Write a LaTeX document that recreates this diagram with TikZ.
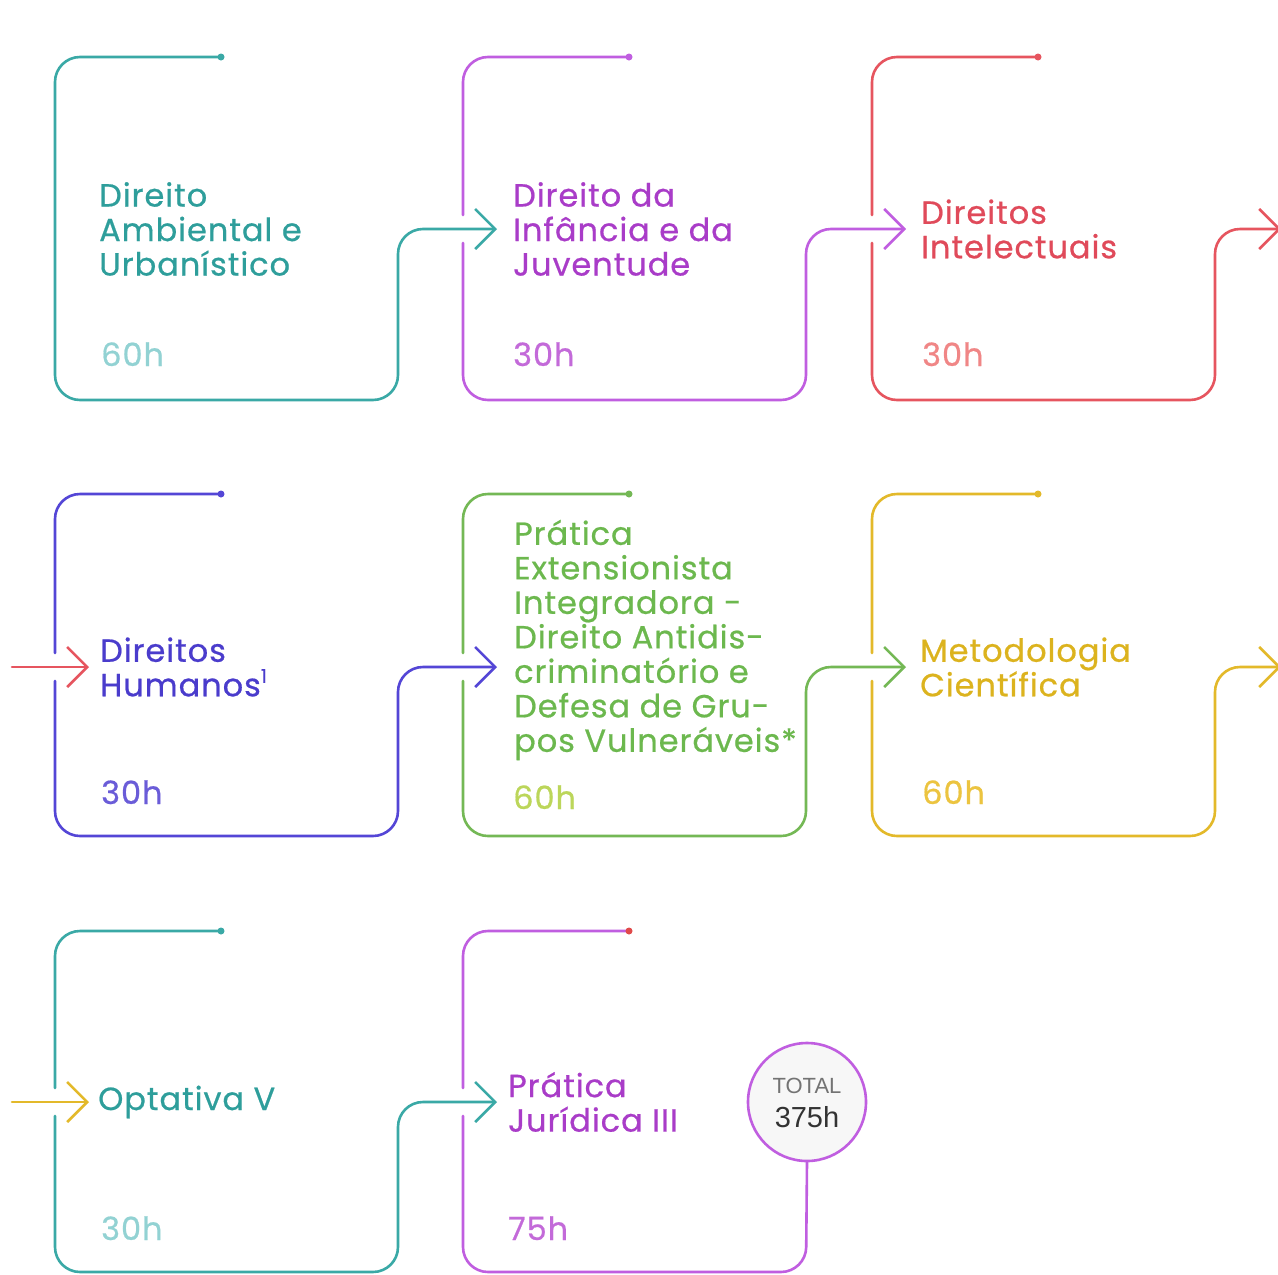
\documentclass[tikz,border=0pt]{standalone}
\usepackage{fontspec}
\setmainfont{Poppins}[LetterSpace=3, FakeBold=0.6]
\newfontfamily\totalfont{Liberation Sans}
\usetikzlibrary{arrows.meta}

% line / text colours of the course boxes
\definecolor{tealL}{HTML}{3AA9A6}\definecolor{tealT}{HTML}{2E9E9B}\definecolor{tealH}{HTML}{92D2D3}
\definecolor{purL}{HTML}{C05EE0}\definecolor{purT}{HTML}{A93CC8}\definecolor{purH}{HTML}{C36AD9}
\definecolor{redL}{HTML}{E6555F}\definecolor{redT}{HTML}{E04A5A}\definecolor{redH}{HTML}{F08686}
\definecolor{indL}{HTML}{5446D6}\definecolor{indT}{HTML}{4A3CCC}\definecolor{indH}{HTML}{6A5CD8}
\definecolor{grnL}{HTML}{74B855}\definecolor{grnT}{HTML}{6CB84E}\definecolor{grnH}{HTML}{BCD65A}
\definecolor{yelL}{HTML}{E3B92A}\definecolor{yelT}{HTML}{DCB31E}\definecolor{yelH}{HTML}{ECC440}
\definecolor{dotRed}{HTML}{E04A4A}

\newcommand\titlefont{\fontsize{32}{34.5}\selectfont}
\newcommand\footmark[1]{\raisebox{0.42em}{\fontsize{19}{19}\selectfont #1}}

\tikzset{
  frame/.style={line width=2.6pt, rounded corners=25pt, line cap=round},
  tip/.style={-{Straight Barb[length=20pt,width=40pt,line width=2.6pt]}},
  title/.style={anchor=west, align=left, inner sep=0pt, font=\titlefont},
  hours/.style={anchor=base west, inner sep=0pt, font=\titlefont},
  pin/.style={circle, fill, inner sep=0pt, minimum size=7pt},
}

% corner points of one course box: name, left, top, bottom, arrow level
\newcommand\boxpoints[5]{%
  \coordinate (#1dot) at (#2+166,#3);
  \coordinate (#1tl)  at (#2,#3);
  \coordinate (#1gu)  at (#2,#5-14);
  \coordinate (#1gd)  at (#2,#5+14);
  \coordinate (#1bl)  at (#2,#4);
  \coordinate (#1br)  at (#2+343,#4);
  \coordinate (#1up)  at (#2+343,#5);
  \coordinate (#1in)  at (#2+34,#5);
}

\begin{document}
\begin{tikzpicture}[x=1pt,y=-1pt]
\fill[white] (0,0) rectangle (1278,1275);
\useasboundingbox (0,0) rectangle (1278,1275);

\boxpoints{a}{55}{57}{400}{229}
\boxpoints{b}{463}{57}{400}{229}
\boxpoints{c}{872}{57}{400}{229}
\boxpoints{d}{55}{494}{836}{667}
\boxpoints{e}{463}{494}{836}{667}
\boxpoints{f}{872}{494}{836}{667}
\boxpoints{g}{55}{931}{1272}{1102}
\boxpoints{h}{463}{931}{1272}{1102}

\coordinate (cExit) at (1281,229);
\coordinate (dEntry) at (12,667);
\coordinate (fExit) at (1281,667);
\coordinate (gEntry) at (12,1102);

% total badge
\node[circle, draw=purL, line width=2.6pt, fill=black!3, minimum size=118pt, inner sep=0pt]
  (total) at (807,1102) {};
\node[font=\totalfont\fontsize{22}{22}\selectfont, text=black!55, inner sep=0pt] (totlbl) at (807,1086) {TOTAL};
\node[font=\totalfont\fontsize{29}{29}\selectfont, text=black!80, inner sep=0pt] (totval) at (807,1117) {375h};

% row 1
\draw[frame, tealL, tip] (adot) -- (atl) -- (abl) -- (abr) -- (aup) -- (bin);
\draw[frame, purL] (bdot) -- (btl) -- (bgu);
\draw[frame, purL, tip] (bgd) -- (bbl) -- (bbr) -- (bup) -- (cin);
\draw[frame, redL] (cdot) -- (ctl) -- (cgu);
\draw[frame, redL, tip] (cgd) -- (cbl) -- (cbr) -- (cup) -- (cExit);

% row 2
\draw[frame, redL, tip] (dEntry) -- (din);
\draw[frame, indL] (ddot) -- (dtl) -- (dgu);
\draw[frame, indL, tip] (dgd) -- (dbl) -- (dbr) -- (dup) -- (ein);
\draw[frame, grnL] (edot) -- (etl) -- (egu);
\draw[frame, grnL, tip] (egd) -- (ebl) -- (ebr) -- (eup) -- (fin);
\draw[frame, yelL] (fdot) -- (ftl) -- (fgu);
\draw[frame, yelL, tip] (fgd) -- (fbl) -- (fbr) -- (fup) -- (fExit);

% row 3
\draw[frame, yelL, tip] (gEntry) -- (gin);
\draw[frame, tealL] (gdot) -- (gtl) -- (ggu);
\draw[frame, tealL, tip] (ggd) -- (gbl) -- (gbr) -- (gup) -- (hin);
\draw[frame, purL] (hdot) -- (htl) -- (hgu);
\draw[frame, purL] (hgd) -- (hbl) -- (hbr) -- (total.south);

% start pins
\node[pin, tealL] (apin) at (adot) {};
\node[pin, purL]  (bpin) at (bdot) {};
\node[pin, redL]  (cpin) at (cdot) {};
\node[pin, indL]  (dpin) at (ddot) {};
\node[pin, grnL]  (epin) at (edot) {};
\node[pin, yelL]  (fpin) at (fdot) {};
\node[pin, tealL] (gpin) at (gdot) {};
\node[pin, dotRed] (hpin) at (hdot) {};

% course titles
\node[title, text=tealT] (at) at (99,229) {Direito\\Ambiental e\\Urbanístico};
\node[title, text=purT]  (bt) at (513,229) {Direito da\\Infância e da\\Juventude};
\node[title, text=redT]  (ct) at (921,229) {Direitos\\Intelectuais};
\node[title, text=indT]  (dt) at (100,667) {Direitos\\Humanos\footmark{1}};
\node[title, text=grnT]  (et) at (514,640) {Prática\\Extensionista\\Integradora -\\Direito Antidis-\\criminatório e\\Defesa de Gru-\\pos Vulneráveis*};
\node[title, text=yelT]  (ft) at (920,667) {Metodologia\\Científica};
\node[title, text=tealT] (gt) at (98,1102) {Optativa V};
\node[title, text=purT]  (ht) at (508,1102) {Prática\\Jurídica III};

% workload
\node[hours, text=tealH] (ah) at (101,366) {60h};
\node[hours, text=purH]  (bh) at (513,366) {30h};
\node[hours, text=redH]  (ch) at (922,366) {30h};
\node[hours, text=indH]  (dh) at (101,804) {30h};
\node[hours, text=grnH]  (eh) at (513,809) {60h};
\node[hours, text=yelH]  (fh) at (922,804) {60h};
\node[hours, text=tealH] (gh) at (101,1240) {30h};
\node[hours, text=purH]  (hh) at (508,1240) {75h};
\end{tikzpicture}
\end{document}
